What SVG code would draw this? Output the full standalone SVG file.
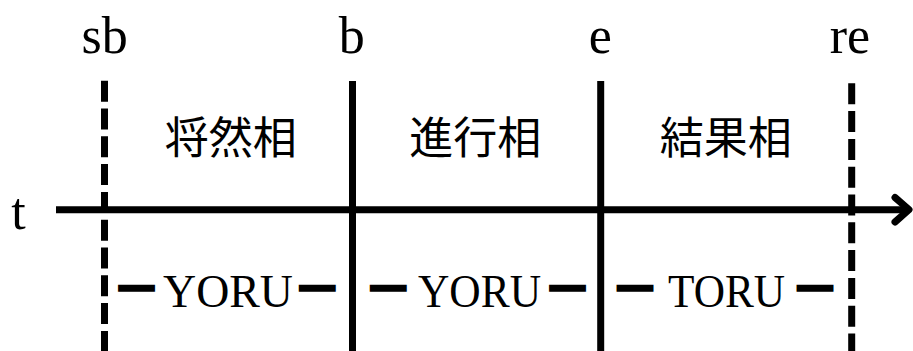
<svg xmlns="http://www.w3.org/2000/svg" width="913" height="351" viewBox="0 0 913 351">
  <style>
    .lat { font-family: "Liberation Serif", "Times New Roman", serif; font-size: 52px; fill: #000; text-anchor: middle; }
    .cjk { font-family: "Noto Sans CJK JP", "Noto Sans CJK SC", sans-serif; font-size: 44px; fill: #000; text-anchor: middle; }
    .word { font-family: "Liberation Serif", "Times New Roman", serif; font-size: 47px; fill: #000; }
    .dash { font-size: 31px; stroke: #000; stroke-width: 5.5; stroke-linejoin: miter; }
    .solid { stroke: #000; stroke-width: 7; fill: none; }
    .dashed { stroke: #000; stroke-width: 7; fill: none; stroke-dasharray: 21 6.8; }
    .axis { stroke: #000; stroke-width: 7; fill: none; }
    .head { stroke: #000; stroke-width: 7; fill: none; stroke-linecap: round; stroke-linejoin: round; }
  </style>
  <rect width="913" height="351" fill="#fff"/>

  <g id="connectors">
    <line class="axis" x1="56" y1="209.7" x2="908" y2="209.7"/>
    <polyline class="head" points="895,197.5 909,209.7 895,222"/>
  </g>

  <g id="label-t">
    <text class="lat" x="18.5" y="228.5">t</text>
  </g>

  <g id="boundary-sb">
    <line class="dashed" x1="104.5" y1="80.7" x2="104.5" y2="351"/>
    <text class="lat" x="104.7" y="53.3">sb</text>
  </g>
  <g id="boundary-b">
    <line class="solid" x1="352.5" y1="81" x2="352.5" y2="351"/>
    <text class="lat" x="351.7" y="53.3">b</text>
  </g>
  <g id="boundary-e">
    <line class="solid" x1="600.7" y1="81" x2="600.7" y2="351"/>
    <text class="lat" x="600.3" y="53.3">e</text>
  </g>
  <g id="boundary-re">
    <line class="dashed" x1="851.7" y1="83.3" x2="851.7" y2="351"/>
    <text class="lat" x="850" y="53.3">re</text>
  </g>

  <g id="phase-1">
    <text class="cjk" x="230.8" y="154">将然相</text>
    <text class="word" y="306.7"><tspan class="dash" x="121" y="296">—</tspan><tspan x="163" y="306.7" textLength="130" lengthAdjust="spacingAndGlyphs">YORU</tspan><tspan class="dash" x="301.8" y="296">—</tspan></text>
  </g>
  <g id="phase-2">
    <text class="cjk" x="475.2" y="154">進行相</text>
    <text class="word" y="306.7"><tspan class="dash" x="372.8" y="296">—</tspan><tspan x="418" y="306.7" textLength="123" lengthAdjust="spacingAndGlyphs">YORU</tspan><tspan class="dash" x="552" y="296">—</tspan></text>
  </g>
  <g id="phase-3">
    <text class="cjk" x="725.8" y="154">結果相</text>
    <text class="word" y="306.7"><tspan class="dash" x="619.5" y="296">—</tspan><tspan x="668" y="306.7" textLength="117" lengthAdjust="spacingAndGlyphs">TORU</tspan><tspan class="dash" x="799.5" y="296">—</tspan></text>
  </g>
</svg>
